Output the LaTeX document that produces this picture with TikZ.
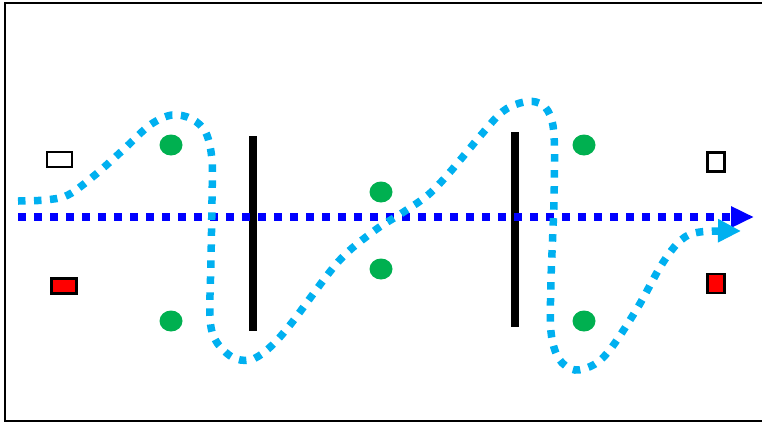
\documentclass[tikz,border=0pt]{standalone}
\usetikzlibrary{arrows.meta,shapes.geometric}
\definecolor{lblue}{HTML}{00B0F0}
\definecolor{dblue}{HTML}{0000FF}
\definecolor{gr}{HTML}{00B050}
\definecolor{rd}{HTML}{FF0000}
\tikzset{
  box/.style={draw=black,line width=2.2pt,inner sep=0pt,outer sep=0pt,fill=white},
  redbox/.style={box,fill=rd},
  dot/.style={ellipse,fill=gr,draw=none,minimum width=23pt,minimum height=21pt,inner sep=0pt},
  bar/.style={line width=8pt,black},
  axisline/.style={dblue,line width=7.5pt,dash pattern=on 8pt off 8pt,-{Triangle[length=23pt,width=20pt]}},
  wave/.style={lblue,line width=7.5pt,dash pattern=on 7.5pt off 8.5pt,-{Triangle[length=23pt,width=22pt]}}
}
\begin{document}
\begin{tikzpicture}[x=1pt,y=-1pt]
\useasboundingbox (0,0) rectangle (762,423);
\draw[line width=2.8pt] (5,3) rectangle (775,421);
% nodes
\node[box,minimum width=25pt,minimum height=15pt] (wl) at (59.5,159.5) {};
\node[redbox,minimum width=25pt,minimum height=15pt] (rl) at (64,286) {};
\node[box,minimum width=17pt,minimum height=19pt] (wr) at (716,162) {};
\node[redbox,minimum width=17pt,minimum height=19pt] (rr) at (716,283.5) {};
\node[dot] (g1) at (171,145) {};
\node[dot] (g2) at (171,321) {};
\node[dot] (g3) at (381,192) {};
\node[dot] (g4) at (381,269) {};
\node[dot] (g5) at (584,145) {};
\node[dot] (g6) at (584,321) {};
% bars
\coordinate (b1t) at (252.5,136);
\coordinate (b1b) at (252.5,331);
\coordinate (b2t) at (515,132);
\coordinate (b2b) at (515,327);
\draw[bar] (b1t) -- (b1b);
\draw[bar] (b2t) -- (b2b);
% axis
\coordinate (as) at (18,217);
\coordinate (ae) at (754,217);
\draw[axisline] (as) -- (ae);
% wave
\draw[wave] plot[smooth,tension=0.55] coordinates {
(18,201) (45,200) (68,195) (95,175) (123,150) (150,125) (172,115) (192,119)
(206,133) (212,160) (212,200) (211,260) (210,318) (216,341) (232,357) (250,360)
(268,349) (290,325) (338,262) (374,231) (402,213) (428,195) (450,172) (481,135)
(502,112) (520,103) (536,102) (548,111) (554,135) (554,200) (551,280) (551,332)
(559,359) (575,370) (595,364) (612,347) (638,307) (662,264) (681,240) (700,232) (741,231)};
\end{tikzpicture}
\end{document}
